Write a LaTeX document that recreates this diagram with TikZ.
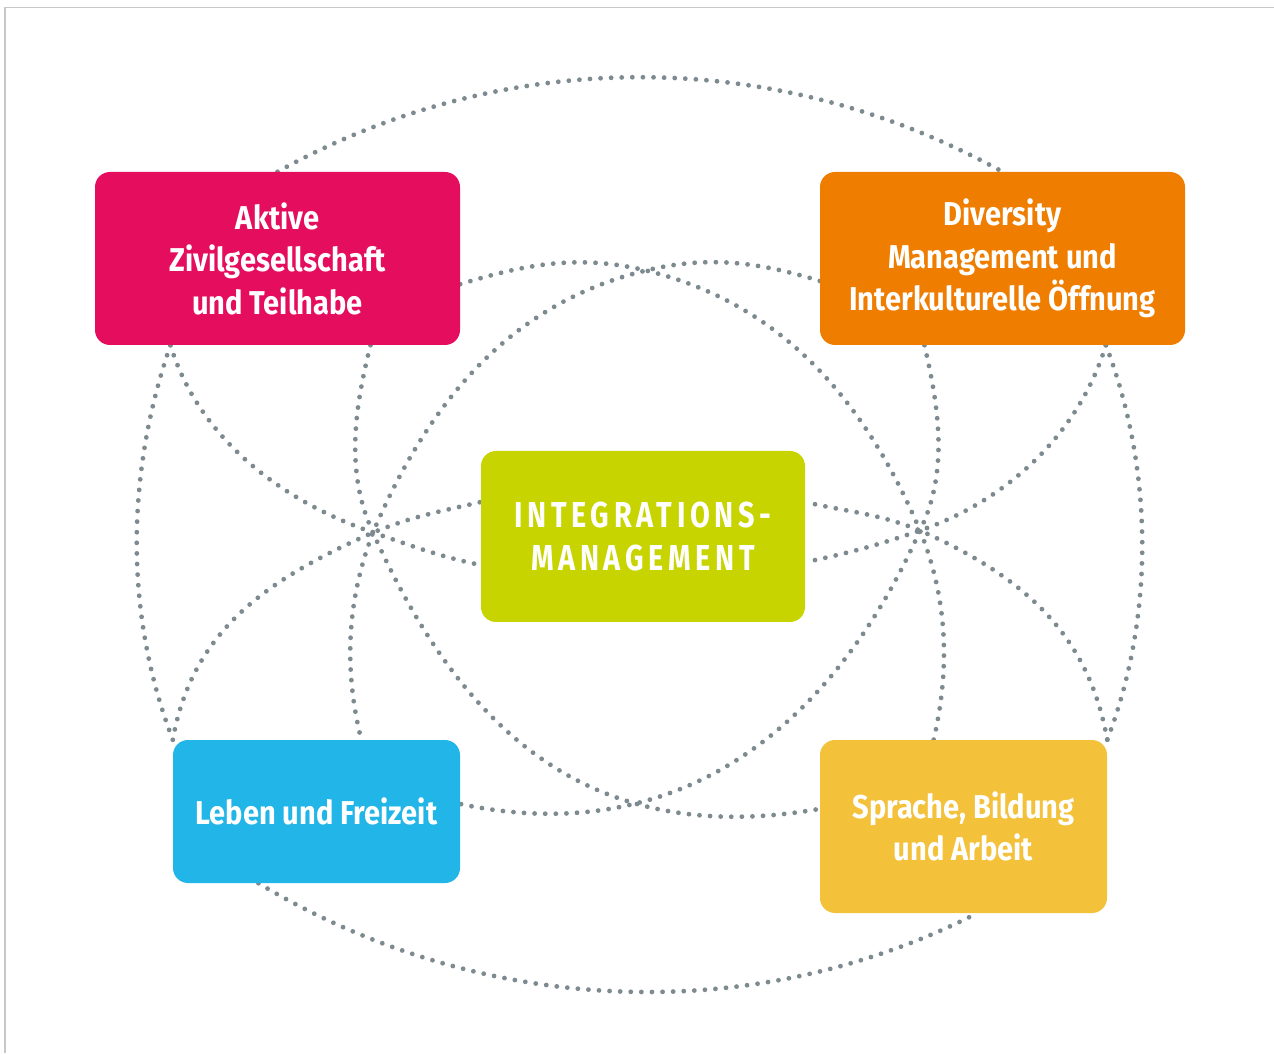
\documentclass[tikz,border=0pt]{standalone}
\usepackage{fontspec}
\usepackage{tikz}
\usetikzlibrary{positioning,calc}
\newfontfamily\boxfont[FakeStretch=0.88]{Fira Sans}
\newfontfamily\capsfont[FakeStretch=0.8,LetterSpace=13]{Fira Sans}
\definecolor{akt}{HTML}{E40D5E}
\definecolor{div}{HTML}{EF7D00}
\definecolor{intg}{HTML}{C8D400}
\definecolor{leb}{HTML}{22B5E8}
\definecolor{spr}{HTML}{F3C13A}
\definecolor{dotgray}{HTML}{7D8A8F}
\definecolor{framegray}{HTML}{C8C8C8}
\pgfdeclarelayer{background}
\pgfsetlayers{background,main}
\tikzset{
block/.style = {rectangle, rounded corners=15pt, inner sep=0pt, text=white, align=center, font=\boxfont\bfseries\fontsize{33}{42.5}\selectfont},
tmp/.style  = {coordinate},
dots/.style = {draw=dotgray, line width=4.8pt, line cap=round, dash pattern=on 0pt off 10.6pt},
frame/.style = {draw=framegray, line width=1.5pt}
}
\begin{document}
\begin{tikzpicture}[x=1pt, y=1pt, on grid]
\useasboundingbox (0,0) rectangle (1274,1053);
\draw[frame] (5,0) |- (1274,1045.5);
\node[block, fill=intg, minimum width=324pt, minimum height=171pt, font=\capsfont\bfseries\fontsize{36}{43}\selectfont] (integ) at (643,516.5) {INTEGRATIONS-\\MANAGEMENT};
\node[block, fill=akt, minimum width=365pt, minimum height=173pt, above left=278pt and 365.5pt of integ] (aktive) {Aktive\\Zivilgesellschaft\\und Teilhabe};
\node[block, fill=div, minimum width=365pt, minimum height=173pt, above right=278pt and 359.5pt of integ] (diversity) {Diversity\\Management und\\Interkulturelle Öffnung};
\node[block, fill=leb, minimum width=287pt, minimum height=143pt, below left=275pt and 326.5pt of integ] (leben) {Leben und Freizeit};
\node[block, fill=spr, minimum width=287pt, minimum height=173pt, below right=290pt and 320.5pt of integ] (sprache) {Sprache, Bildung\\und Arbeit};
\node[tmp, above left=4pt and 270pt of integ] (L) {};
\node[tmp, above right=6pt and 277pt of integ] (R) {};
\node[tmp, above right=266pt and 3pt of integ] (Xt) {};
\begin{pgfonlayer}{background}
\draw[dots] (aktive.north) to[out=29,in=151,looseness=0.92] (diversity.north);
\draw[dots] (leben.-129) to[out=-31,in=207,looseness=0.91] (sprache.-81);
\draw[dots] (aktive.-141) to[out=-109,in=111,looseness=0.88] (leben.north west);
\draw[dots] (diversity.-40) to[out=-69,in=69,looseness=0.86] (sprache.north east);
\draw[dots] (aktive.-141) to[out=-73,in=161,looseness=0.9] (L) to[out=-19,in=168] (integ.-170);
\draw[dots] (leben.north west) to[out=80,in=204] (L) to[out=22,in=193] (integ.168);
\draw[dots] (aktive.-43) to[out=-104,in=115,looseness=0.9] (L) to[out=-66,in=190,looseness=1.1] (sprache.173);
\draw[dots] (diversity.-173) to[out=163,in=13.6,looseness=0.95] (Xt) to[out=193.6,in=67,looseness=0.95] (L) to[out=-111,in=104,looseness=0.9] (leben.58);
\draw[dots] (diversity.-40) to[out=-107,in=19,looseness=0.9] (R) to[out=199,in=12] (integ.-9);
\draw[dots] (sprache.north east) to[out=100,in=-24] (R) to[out=158,in=-13] (integ.12);
\draw[dots] (diversity.-132) to[out=-77,in=64,looseness=0.9] (R) to[out=-114,in=-12,looseness=1.05] (leben.3);
\draw[dots] (aktive.-8) to[out=17,in=166.4,looseness=0.95] (Xt) to[out=-13.6,in=113,looseness=0.95] (R) to[out=-68,in=77,looseness=0.9] (sprache.109);
\end{pgfonlayer}
\end{tikzpicture}
\end{document}
